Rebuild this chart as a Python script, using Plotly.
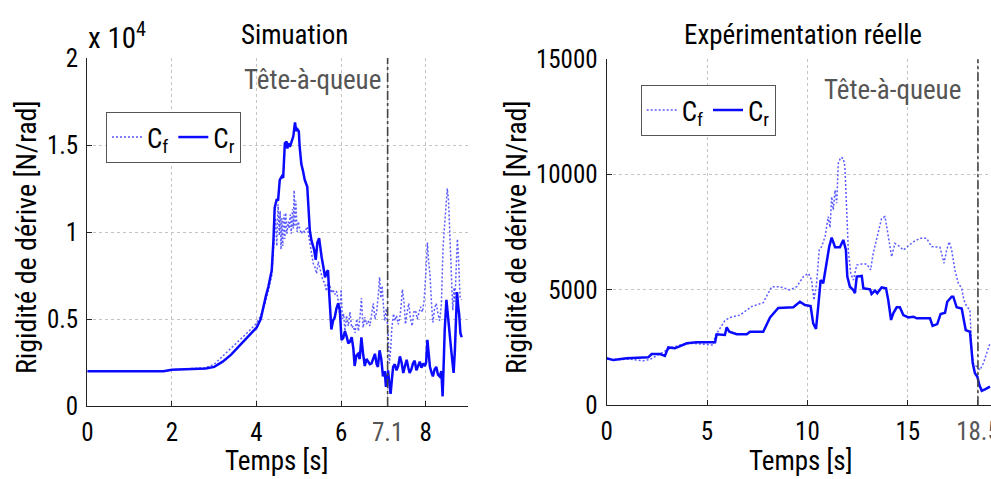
import plotly.graph_objects as go

# ---------------- data: simulation (left) ----------------
sim_t_r = [0.0, 1.8, 2.0, 2.5, 2.8, 3.0, 3.2, 3.4, 3.6, 3.8, 4.0, 4.1, 4.16, 4.22, 4.28, 4.36, 4.40, 4.43,
           4.48, 4.51, 4.55, 4.60, 4.63, 4.67, 4.71, 4.73, 4.75, 4.79, 4.83, 4.87, 4.91, 4.94, 4.97, 5.00,
           5.02, 5.06, 5.10, 5.14, 5.20, 5.23, 5.26, 5.30, 5.33, 5.36, 5.40, 5.44, 5.48, 5.51, 5.54, 5.58,
           5.62, 5.66, 5.69, 5.72, 5.75, 5.77, 5.81, 5.85, 5.89, 5.93, 5.97, 6.01, 6.05, 6.09, 6.13, 6.17,
           6.21, 6.25, 6.29, 6.32, 6.36, 6.40, 6.44, 6.48, 6.52, 6.56, 6.60, 6.64, 6.68, 6.72, 6.76, 6.80,
           6.84, 6.87, 6.91, 6.95, 6.99, 7.03, 7.06, 7.09, 7.11, 7.14, 7.17, 7.20, 7.23, 7.27, 7.31, 7.35,
           7.39, 7.43, 7.47, 7.51, 7.55, 7.59, 7.62, 7.66, 7.70, 7.74, 7.78, 7.82, 7.86, 7.90, 7.94, 7.98,
           8.01, 8.04, 8.07, 8.10, 8.14, 8.17, 8.21, 8.25, 8.29, 8.33, 8.37, 8.40, 8.43, 8.45, 8.49, 8.52,
           8.55, 8.58, 8.61, 8.64, 8.66, 8.69, 8.71, 8.74, 8.77, 8.79, 8.82, 8.85]
sim_cr = [2000, 2000, 2080, 2120, 2150, 2250, 2550, 2950, 3450, 3950, 4500, 5000, 5700, 6300, 6850, 7800, 9500, 11400,
          11900, 11800, 13000, 13200, 13100, 15100, 15200, 14800, 15100, 14900, 15200, 15500, 16300, 15800, 15900, 15800,
          14900, 13900, 13500, 13000, 12600, 11500, 10100, 9500, 9300, 9000, 8400, 9400, 9650, 9000, 8550, 8000,
          7400, 7700, 7800, 6400, 5200, 4400, 4900, 5100, 5600, 5900, 5500, 3800, 3900, 4300, 4000, 3600,
          3700, 3950, 3300, 2300, 2900, 3000, 2700, 3950, 3000, 2300, 2700, 2550, 2400, 2450, 2750, 3000,
          2400, 2250, 3200, 2700, 1700, 2000, 1100, 1900, 2050, 1300, 700, 1500, 2250, 2400, 2050, 2300,
          2850, 2500, 1900, 2300, 2650, 2200, 1900, 2100, 2450, 2600, 2050, 2300, 2550, 2200, 2450, 2300,
          2500, 3800, 2900, 2250, 1900, 1700, 2100, 2250, 1800, 1700, 2000, 550, 2800, 4400, 6100, 5200,
          4400, 3800, 3050, 2300, 1900, 3200, 4900, 6550, 5700, 5300, 4200, 3950]

sim_t_f = [0.0, 1.8, 2.0, 2.5, 2.8, 3.0, 3.2, 3.4, 3.6, 3.8, 4.0, 4.1, 4.2, 4.28, 4.36, 4.40, 4.42, 4.45,
           4.48, 4.51, 4.54, 4.56, 4.58, 4.60, 4.62, 4.65, 4.67, 4.69, 4.72, 4.75, 4.77, 4.80, 4.82, 4.85,
           4.87, 4.89, 4.91, 4.93, 4.96, 4.99, 5.02, 5.06, 5.10, 5.14, 5.20, 5.26, 5.30, 5.34, 5.38, 5.42,
           5.46, 5.50, 5.54, 5.57, 5.61, 5.65, 5.69, 5.73, 5.77, 5.81, 5.85, 5.89, 5.93, 5.97, 6.00, 6.03,
           6.06, 6.09, 6.13, 6.17, 6.21, 6.25, 6.29, 6.33, 6.37, 6.41, 6.45, 6.48, 6.52, 6.56, 6.60, 6.64,
           6.68, 6.72, 6.76, 6.80, 6.84, 6.88, 6.91, 6.94, 6.97, 7.00, 7.03, 7.07, 7.11, 7.14, 7.17, 7.20,
           7.24, 7.27, 7.31, 7.35, 7.39, 7.42, 7.45, 7.49, 7.52, 7.56, 7.60, 7.64, 7.68, 7.72, 7.76, 7.80,
           7.84, 7.88, 7.92, 7.96, 8.00, 8.04, 8.07, 8.10, 8.14, 8.17, 8.21, 8.25, 8.29, 8.33, 8.37, 8.41,
           8.45, 8.48, 8.51, 8.54, 8.57, 8.60, 8.64, 8.67, 8.69, 8.72, 8.75, 8.78, 8.81, 8.85]
sim_cf = [2000, 2000, 2080, 2150, 2200, 2400, 2850, 3300, 3800, 4250, 4750, 5200, 5900, 6600, 7500, 8800, 9350, 10800,
          9200, 11600, 9800, 11200, 9000, 10800, 9200, 11000, 9600, 11100, 9900, 10600, 10200, 11000, 9900, 11300,
          10200, 12400, 10300, 11800, 10000, 10600, 10200, 9900, 10100, 10000, 10300, 9300, 8600, 8200, 8000, 7600,
          8300, 7900, 7500, 7200, 7100, 6600, 7100, 7000, 6500, 6700, 6400, 6600, 6100, 5200, 6700, 5000,
          5300, 4300, 5200, 4600, 5400, 4500, 4600, 4200, 5000, 4300, 5200, 6200, 4500, 5100, 4700, 4900,
          4600, 5300, 5900, 5000, 5400, 6400, 7400, 6200, 6900, 5800, 4900, 5600, 4200, 2450, 3200, 4500,
          5300, 4900, 5200, 4700, 5100, 5800, 6700, 5900, 4700, 5400, 5900, 5000, 4600, 5400, 5500, 5000,
          5300, 5700, 5400, 6000, 7500, 9400, 8300, 7600, 5800, 4800, 5600, 5900, 5300, 4900, 5800, 9100,
          10500, 11300, 12500, 11800, 10100, 8200, 5500, 6800, 6000, 7900, 9600, 8300, 6300, 6100]

# ---------------- data: real experiment (right) ----------------
exp_t_r = [0.0, 0.33, 1.0, 2.07, 2.24, 2.66, 2.90, 3.07, 3.40, 3.65, 3.99, 4.48, 5.40, 5.48, 5.89, 5.98,
           6.11, 6.48, 6.98, 7.14, 7.80, 8.14, 8.55, 9.30, 9.63, 9.88, 10.16, 10.29, 10.43, 10.54, 10.66,
           10.79, 10.93, 11.09, 11.21, 11.38, 11.62, 11.79, 11.92, 11.99, 12.12, 12.29, 12.37, 12.46, 12.71,
           12.79, 13.12, 13.20, 13.37, 13.48, 13.70, 13.92, 14.03, 14.17, 14.28, 14.45, 14.61, 14.78, 15.03,
           15.28, 15.45, 16.11, 16.24, 16.47, 16.64, 16.86, 16.97, 17.19, 17.27, 17.44, 17.69, 17.89, 18.10,
           18.24, 18.35, 18.47, 18.57, 18.69, 18.85, 19.10]
exp_cr = [2040, 1960, 2040, 2080, 2220, 2220, 2140, 2510, 2470, 2570, 2690, 2730, 2730, 3080, 3050, 3380,
          3190, 3080, 3080, 3190, 3190, 3810, 4220, 4250, 4490, 4350, 4300, 3550, 3310, 4280, 5430,
          5290, 6010, 6880, 7270, 6850, 6850, 7170, 6730, 5580, 5140, 5000, 4860, 5580, 5610,
          5070, 5030, 4830, 4970, 4860, 5110, 5070, 4560, 3700, 3990, 4250, 4250, 3910, 3810,
          3840, 3770, 3770, 3440, 3520, 3960, 4010, 4490, 4710, 4710, 4250, 4200, 3260, 3190,
          1820, 1390, 1240, 880, 630, 690, 810]

exp_t_f = [0.0, 0.5, 1.2, 1.83, 2.16, 2.49, 3.05, 3.24, 3.65, 4.15, 4.65, 5.31, 5.40, 5.89, 6.14, 6.64,
           7.22, 7.80, 8.05, 8.22, 8.63, 9.13, 9.47, 9.80, 10.05, 10.21, 10.33, 10.46, 10.59, 10.71, 10.88,
           11.04, 11.13, 11.21, 11.29, 11.38, 11.46, 11.54, 11.66, 11.79, 11.87, 11.96, 12.04, 12.16, 12.29,
           12.46, 12.71, 12.95, 13.15, 13.28, 13.48, 13.70, 13.87, 14.00, 14.12, 14.20, 14.36, 14.61, 14.78,
           14.95, 15.28, 15.61, 15.94, 16.19, 16.61, 16.81, 16.94, 17.07, 17.19, 17.35, 17.52, 17.69, 17.80,
           17.94, 18.10, 18.19, 18.27, 18.44, 18.60, 18.77, 18.93, 19.10]
exp_cf = [2000, 1980, 2000, 1930, 1990, 2140, 2400, 2510, 2610, 2690, 2660, 2610, 3000, 3670, 3810, 3910,
          4280, 4450, 4860, 5140, 5140, 5000, 5140, 5580, 5720, 5430, 4560, 5290, 6730, 6880, 7310,
          8180, 7700, 9040, 8470, 9330, 8760, 10490, 10750, 10710, 10340, 8470, 6730, 5720, 5430,
          6080, 6130, 6130, 5870, 6590, 7310, 8110, 8180, 7460, 6880, 6440, 7020, 6880, 6730,
          6850, 7090, 7240, 7240, 6880, 6850, 6160, 6730, 7090, 6730, 5870, 5290, 5070, 4560,
          4280, 4130, 2400, 1820, 1670, 1530, 1820, 2250, 2690]

# tick labels / annotations
sim_xticks = [0, 2, 4, 6, 7.1, 8]
sim_xtick_text = ["0", "2", "4", "6", '<span style="color:#555555">7.1</span>', "8"]
sim_yticks = [0, 5000, 10000, 15000, 20000]
sim_ytick_text = ["0", "0.5", "1", "1.5", "2"]
exp_xticks = [0, 5, 10, 15, 18.5]
exp_xtick_text = ["0", "5", "10", "15", '<span style="color:#555555">18.5</span>']
exp_yticks = [0, 5000, 10000, 15000]
exp_ytick_text = ["0", "5000", "10000", "15000"]
sim_flip_time = 7.1
exp_flip_time = 18.5

FONT = "Roboto Condensed, DejaVu Sans Condensed, Liberation Sans Narrow, sans-serif"
W, H = 991, 479
CR_COLOR = "#0a0aff"
CF_COLOR = "#5a5aff"
TICK_SIZE = 25
TEXT_SIZE = 27

fig = go.Figure()
fig.add_trace(go.Scatter(x=sim_t_f, y=sim_cf, mode="lines", name="C<sub>f</sub>",
                         line=dict(color=CF_COLOR, width=1.5, dash="2px,2px"), xaxis="x", yaxis="y", legend="legend"))
fig.add_trace(go.Scatter(x=sim_t_r, y=sim_cr, mode="lines", name="C<sub>r</sub>",
                         line=dict(color=CR_COLOR, width=2.5), xaxis="x", yaxis="y", legend="legend"))
fig.add_trace(go.Scatter(x=exp_t_f, y=exp_cf, mode="lines", name="C<sub>f</sub>",
                         line=dict(color=CF_COLOR, width=1.5, dash="2px,2px"), xaxis="x2", yaxis="y2", legend="legend2"))
fig.add_trace(go.Scatter(x=exp_t_r, y=exp_cr, mode="lines", name="C<sub>r</sub>",
                         line=dict(color=CR_COLOR, width=2.5), xaxis="x2", yaxis="y2", legend="legend2"))

axis_common = dict(showgrid=True, gridcolor="#c4c4c4", griddash="dot", gridwidth=1,
                   showline=True, linecolor="#222222", linewidth=1.2, ticks="inside", ticklen=5,
                   tickcolor="#222222", zeroline=False, automargin=False, ticklabeloverflow="allow",
                   tickfont=dict(family=FONT, size=TICK_SIZE, color="black"), tickmode="array")

def px2x(px):
    return px / W

def px2y(py):
    return 1 - py / H

legend_common = dict(xanchor="left", yanchor="top", orientation="h",
                     bordercolor="#555555", borderwidth=1, bgcolor="white",
                     font=dict(family=FONT, size=TEXT_SIZE, color="black"), itemwidth=30, tracegroupgap=0)

fig.update_layout(
    width=W, height=H, margin=dict(l=0, r=0, t=0, b=0, autoexpand=False),
    paper_bgcolor="white", plot_bgcolor="white", showlegend=True,
    xaxis=dict(domain=[px2x(87.3), px2x(468)], range=[0, 9], anchor="y",
               tickvals=sim_xticks, ticktext=sim_xtick_text, ticklabelstandoff=4, **axis_common),
    yaxis=dict(domain=[px2y(406), px2y(58)], range=[0, 20000], anchor="x",
               tickvals=sim_yticks, ticktext=sim_ytick_text, ticklabelstandoff=3, **axis_common),
    xaxis2=dict(domain=[px2x(606.7), 1.0], range=[0, 19.15], anchor="y2",
                tickvals=exp_xticks, ticktext=exp_xtick_text, ticklabelstandoff=4, **axis_common),
    yaxis2=dict(domain=[px2y(405.3), px2y(59.3)], range=[0, 15000], anchor="x2",
                tickvals=exp_yticks, ticktext=exp_ytick_text, ticklabelstandoff=3, **axis_common),
    legend=dict(x=px2x(106), y=px2y(112), **legend_common),
    legend2=dict(x=px2x(640.7), y=px2y(85), **legend_common),
)

# flip markers (dash-dot vertical lines)
fig.add_shape(type="line", xref="x", yref="y domain", x0=sim_flip_time, x1=sim_flip_time, y0=0, y1=1,
              line=dict(color="#444444", width=1.6, dash="dashdot"))
fig.add_shape(type="line", xref="x2", yref="y2 domain", x0=exp_flip_time, x1=exp_flip_time, y0=0, y1=1,
              line=dict(color="#444444", width=1.6, dash="dashdot"))

def note(text, x, y, size=TEXT_SIZE, color="black", xanchor="center", angle=0):
    fig.add_annotation(text=text, x=px2x(x), y=px2y(y), xref="paper", yref="paper", showarrow=False,
                       xanchor=xanchor, yanchor="middle", textangle=angle,
                       font=dict(family=FONT, size=size, color=color))

note("Simuation", 294, 35)
note("Expérimentation réelle", 803, 35)
note("Tête-à-queue", 383, 80, color="#555555", xanchor="right")
note("Tête-à-queue", 963, 90, color="#555555", xanchor="right")
note("x 10<sup>4</sup>", 86, 36, size=29, xanchor="left")
note("Temps [s]", 276, 461)
note("Temps [s]", 800, 461)
note("Rigidité de dérive [N/rad]", 26, 237, size=28, angle=-90)
note("Rigidité de dérive [N/rad]", 516, 237, size=28, angle=-90)

fig.write_html("out.html", config={"displayModeBar": False},
               post_script="document.body.style.margin='0px';document.body.style.overflow='hidden';")
